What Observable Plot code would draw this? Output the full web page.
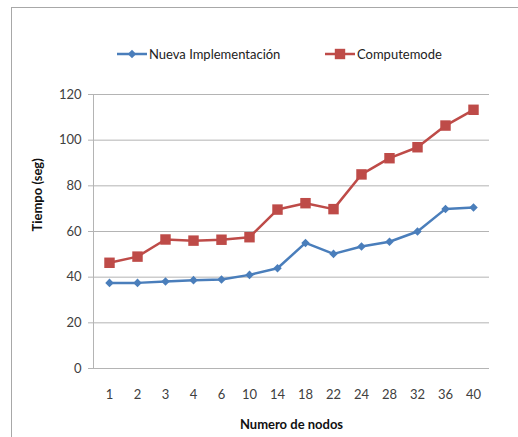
<!DOCTYPE html>
<html>
<head>
<meta charset="utf-8">
<script src="https://cdn.jsdelivr.net/npm/d3@7"></script>
<script src="https://cdn.jsdelivr.net/npm/@observablehq/plot@0.6"></script>
<style>
  html, body { margin: 0; padding: 0; background: #fff; overflow: hidden; }
  #frame { margin-left: 11px; margin-top: 7px; width: 507px; height: 429px;
           border-left: 1px solid #a8a8a8; border-top: 1px solid #a8a8a8; position: relative; background: #fff; }
  #legend { position: relative; height: 60px; font-family: Lato, "Open Sans", sans-serif; font-size: 13px; color: #222; }
  .item { position: absolute; top: 38px; display: flex; align-items: center; }
  .item svg { display: block; }
  .item span { margin-left: 2px; }
</style>
</head>
<body>
<div id="frame">
  <div id="legend">
    <div class="item" style="left:105px">
      <svg width="30" height="14"><line x1="0" y1="7" x2="30" y2="7" stroke="#4a7ebb" stroke-width="2.5"/><path d="M15,2.8L19.2,7L15,11.2L10.8,7Z" fill="#4a7ebb"/></svg>
      <span>Nueva Implementación</span>
    </div>
    <div class="item" style="left:313px">
      <svg width="30" height="14"><line x1="0" y1="7" x2="30" y2="7" stroke="#be4b48" stroke-width="2.5"/><rect x="9.8" y="1.8" width="10.4" height="10.4" fill="#be4b48"/></svg>
      <span>Computemode</span>
    </div>
  </div>
  <div id="chart"></div>
</div>
<script>
const nodos = ["1","2","3","4","6","10","14","18","22","24","28","32","36","40"];
const nueva = [37.5,37.5,38.1,38.7,39,41,43.9,55,50.2,53.4,55.5,60,69.9,70.5];
const compute = [46.3,49,56.5,56,56.4,57.5,69.6,72.4,69.8,85,92.1,96.9,106.4,113.3];
const yTicks = [0,20,40,60,80,100,120];
const blue = "#4a7ebb", red = "#be4b48";

const nuevaData = nodos.map((n,i)=>({n, v: nueva[i]}));
const computeData = nodos.map((n,i)=>({n, v: compute[i]}));

const diamond = {
  draw(ctx, size) {
    const r = Math.sqrt(size / 2);
    ctx.moveTo(0, -r); ctx.lineTo(r, 0); ctx.lineTo(0, r); ctx.lineTo(-r, 0); ctx.closePath();
  }
};

const chart = Plot.plot({
  width: 507, height: 369,
  marginLeft: 81, marginRight: 30, marginTop: 26, marginBottom: 69,
  style: { fontFamily: "Lato, 'Open Sans', sans-serif", fontSize: "13px", color: "#404040", background: "white" },
  x: { type: "band", domain: nodos, padding: 0, label: null },
  y: { domain: [0, 120], label: null },
  marks: [
    Plot.gridY(yTicks, { stroke: "#b4b4b4", strokeOpacity: 1 }),
    Plot.axisY(yTicks, { tickSize: 5, tickPadding: 7, stroke: "#b4b4b4", fill: "#404040", label: null }),
    Plot.axisX({ tickSize: 0, tickPadding: 21, fill: "#404040", label: null }),
    Plot.frame({ anchor: "left", stroke: "#b4b4b4" }),
    Plot.text(["Tiempo (seg)"], { frameAnchor: "left", dx: -56, rotate: -90, fontWeight: "bold", fill: "#111", fontSize: 13 }),
    Plot.text(["Numero de nodos"], { frameAnchor: "bottom", dy: 60, fontWeight: "bold", fill: "#111", fontSize: 13 }),
    Plot.line(nuevaData, { x: "n", y: "v", stroke: blue, strokeWidth: 2.5 }),
    Plot.line(computeData, { x: "n", y: "v", stroke: red, strokeWidth: 2.5 }),
    Plot.dot(nuevaData, { x: "n", y: "v", symbol: diamond, r: 3.4, fill: blue }),
    Plot.dot(computeData, { x: "n", y: "v", symbol: "square", r: 5.9, fill: red })
  ]
});
document.getElementById("chart").appendChild(chart);
</script>
</body>
</html>
